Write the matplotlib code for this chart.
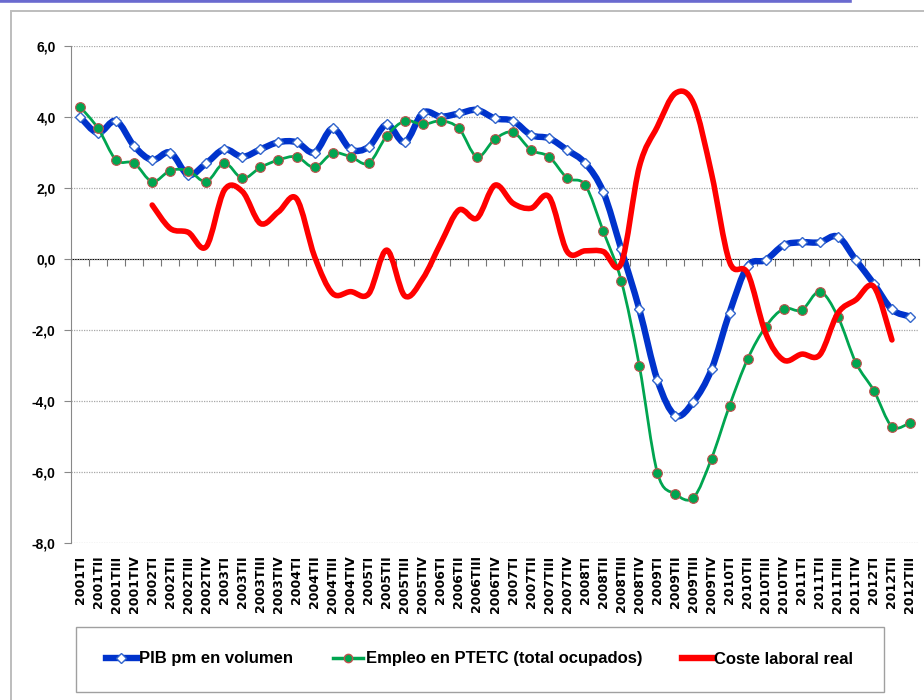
import numpy as np
import matplotlib
matplotlib.use("Agg")
import matplotlib.pyplot as plt
from matplotlib.path import Path
from matplotlib.patches import PathPatch, Rectangle
from matplotlib.lines import Line2D
from matplotlib import font_manager

# datos trimestrales (tasas de variacion interanual, %)
trimestres = [f"{a}T{q}" for a in range(2001, 2013) for q in ["I", "II", "III", "IV"]][:47]

pib = [4.00, 3.55, 3.89, 3.18, 2.79, 3.00, 2.37, 2.70, 3.09, 2.88, 3.09, 3.29,
       3.29, 3.00, 3.68, 3.09, 3.16, 3.79, 3.29, 4.12, 4.01, 4.10, 4.20, 3.96,
       3.89, 3.49, 3.40, 3.07, 2.70, 1.89, 0.27, -1.42, -3.41, -4.41, -4.02, -3.11,
       -1.51, -0.20, -0.03, 0.39, 0.47, 0.47, 0.63, -0.03, -0.70, -1.42, -1.62]

empleo = [4.29, 3.68, 2.79, 2.70, 2.18, 2.49, 2.49, 2.18, 2.70, 2.27, 2.58, 2.79,
          2.88, 2.58, 2.98, 2.88, 2.70, 3.47, 3.89, 3.79, 3.89, 3.68, 2.88, 3.38,
          3.57, 3.07, 2.88, 2.28, 2.08, 0.78, -0.62, -3.01, -6.02, -6.62, -6.72, -5.62,
          -4.13, -2.82, -1.91, -1.40, -1.44, -0.92, -1.62, -2.92, -3.71, -4.72, -4.61]

# coste laboral real: de 2002TI a 2012TII
coste_inicio = 4
coste = [1.52, 0.86, 0.75, 0.35, 1.94, 1.90, 1.00, 1.33, 1.70, 0.07, -0.97, -0.92,
         -0.98, 0.25, -1.04, -0.55, 0.45, 1.38, 1.15, 2.08, 1.57, 1.43, 1.75, 0.21,
         0.23, 0.21, -0.12, 2.60, 3.73, 4.67, 4.39, 2.41, -0.08, -0.40, -2.09, -2.85,
         -2.68, -2.70, -1.53, -1.15, -0.78, -2.28]

nombres = ["PIB pm en volumen", "Empleo en PTETC (total ocupados)", "Coste laboral real"]
AZUL = "#0033CC"
VERDE = "#00A550"
ROJO = "#FF0000"


def fuente_estrecha():
    nombres_f = {f.name for f in font_manager.fontManager.ttflist}
    if "Liberation Sans Narrow" in nombres_f:
        return "Liberation Sans Narrow", True
    return "Liberation Sans", False


def linea_suave(ax, x, y, **kw):
    # curva suavizada tipo Excel (bezier cubica por tramos)
    x = np.asarray(x, float)
    y = np.asarray(y, float)
    n = len(x)
    verts = [(x[0], y[0])]
    codes = [Path.MOVETO]
    for i in range(n - 1):
        x0, y0 = (x[i - 1], y[i - 1]) if i > 0 else (x[i], y[i])
        x3, y3 = (x[i + 2], y[i + 2]) if i < n - 2 else (x[i + 1], y[i + 1])
        c1 = (x[i] + (x[i + 1] - x0) / 6, y[i] + (y[i + 1] - y0) / 6)
        c2 = (x[i + 1] - (x3 - x[i]) / 6, y[i + 1] - (y3 - y[i]) / 6)
        verts += [c1, c2, (x[i + 1], y[i + 1])]
        codes += [Path.CURVE4] * 3
    ax.add_patch(PathPatch(Path(verts, codes), fill=False, capstyle="round",
                           joinstyle="round", **kw))


fam_narrow, es_narrow = fuente_estrecha()

fig = plt.figure(figsize=(9.24, 7), dpi=100)
W, H = 924, 700
ax = fig.add_axes([71 / W, 1 - 543 / H, (919 - 71) / W, (543 - 46) / H])

x = np.arange(len(trimestres))
x_coste = np.arange(coste_inicio, coste_inicio + len(coste))

linea_suave(ax, x, pib, edgecolor=AZUL, lw=4.6, zorder=3)
ax.plot(x, pib, ls="none", marker="D", ms=5, mfc="white", mec="#3366CC", mew=1, zorder=4)
linea_suave(ax, x, empleo, edgecolor=VERDE, lw=2.0, zorder=5)
ax.plot(x, empleo, ls="none", marker="o", ms=7, mfc=VERDE, mec="#C0504D", mew=0.8, zorder=6)
linea_suave(ax, x_coste, coste, edgecolor=ROJO, lw=4.0, zorder=7)

ax.set_xlim(-0.5, len(trimestres) - 0.5)
ax.set_ylim(-8, 6)
yt = np.arange(-8, 7, 2)
ax.set_yticks(yt)
ax.set_yticklabels([f"{v:.1f}".replace(".", ",") for v in yt],
                   fontfamily=fam_narrow, fontweight="bold",
                   fontsize=10.5 if es_narrow else 10)
ax.tick_params(axis="y", direction="out", length=5, color="#888888", pad=6)
ax.yaxis.grid(True, ls=(0, (1, 1)), color="#A8A8A8", lw=0.9)
ax.set_axisbelow(True)

ax.set_xticks(x)
ax.set_xticklabels(trimestres, rotation=90, fontfamily="DejaVu Sans",
                   fontweight="bold", fontsize=9)
ax.tick_params(axis="x", length=0, pad=9)

for s in ["top", "right", "bottom"]:
    ax.spines[s].set_visible(False)
ax.spines["left"].set_color("#888888")

# eje horizontal en el cero con marcas de categoria (hacia abajo)
eje0 = ax.secondary_xaxis(8 / 14)
eje0.set_xticks(np.arange(-0.5, len(trimestres), 1))
eje0.set_xticklabels([])
eje0.tick_params(axis="x", direction="in", length=5, color="#777777",
                 labelbottom=False, labeltop=False)
eje0.spines["bottom"].set_color("#666666")
eje0.spines["bottom"].set_linewidth(1.2)

# marco exterior y barra superior
fig.add_artist(Rectangle((11 / W, -0.1), 1.2, 1 - 11 / H + 0.1, transform=fig.transFigure,
                         fill=False, edgecolor="#BDBDBD", lw=1.4))
fig.add_artist(Line2D([0, 850 / W], [1 - 1.2 / H] * 2, transform=fig.transFigure,
                      color="#6A6ACF", lw=2.6))

# leyenda
fig.add_artist(Rectangle((76 / W, 1 - 692 / H), (884 - 76) / W, 65 / H,
                         transform=fig.transFigure, fill=False, edgecolor="#A0A0A0", lw=1))
handles = [
    Line2D([], [], color=AZUL, lw=4.6, marker="D", ms=5, mfc="white", mec="#3366CC"),
    Line2D([], [], color=VERDE, lw=2.5, marker="o", ms=6, mfc=VERDE, mec="#C0504D"),
    Line2D([], [], color=ROJO, lw=4.6),
]
fig.legend(handles, nombres, loc="center", bbox_to_anchor=(480 / W, 1 - 659 / H),
           ncol=3, frameon=False, handlelength=1.8, handletextpad=0.15,
           columnspacing=2.4, numpoints=1,
           prop=dict(family=fam_narrow, weight="bold", size=14 if es_narrow else 12))

fig.savefig("out.png", dpi=100)
